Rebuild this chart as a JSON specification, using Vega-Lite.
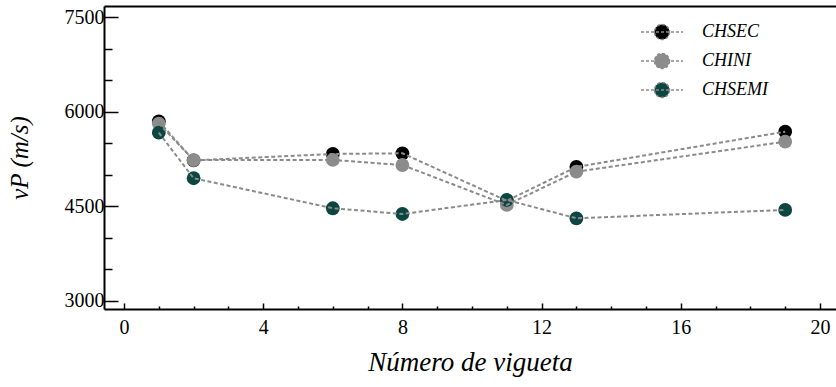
{
  "$schema": "https://vega.github.io/schema/vega-lite/v6.json",
  "width": 732,
  "height": 303,
  "autosize": "none",
  "padding": {"left": 104, "top": 6, "right": 0, "bottom": 78},
  "background": "white",
  "config": {"view": {"stroke": null}, "font": "Liberation Serif"},
  "data": {
    "values": [
      {"n": 1, "vp": 5850, "serie": "CHSEC"},
      {"n": 2, "vp": 5230, "serie": "CHSEC"},
      {"n": 6, "vp": 5332, "serie": "CHSEC"},
      {"n": 8, "vp": 5343, "serie": "CHSEC"},
      {"n": 11, "vp": 4590, "serie": "CHSEC"},
      {"n": 13, "vp": 5126, "serie": "CHSEC"},
      {"n": 19, "vp": 5686, "serie": "CHSEC"},
      {"n": 1, "vp": 5815, "serie": "CHINI"},
      {"n": 2, "vp": 5235, "serie": "CHINI"},
      {"n": 6, "vp": 5237, "serie": "CHINI"},
      {"n": 8, "vp": 5157, "serie": "CHINI"},
      {"n": 11, "vp": 4523, "serie": "CHINI"},
      {"n": 13, "vp": 5051, "serie": "CHINI"},
      {"n": 19, "vp": 5527, "serie": "CHINI"},
      {"n": 1, "vp": 5670, "serie": "CHSEMI"},
      {"n": 2, "vp": 4947, "serie": "CHSEMI"},
      {"n": 6, "vp": 4471, "serie": "CHSEMI"},
      {"n": 8, "vp": 4380, "serie": "CHSEMI"},
      {"n": 11, "vp": 4602, "serie": "CHSEMI"},
      {"n": 13, "vp": 4312, "serie": "CHSEMI"},
      {"n": 19, "vp": 4444, "serie": "CHSEMI"}
    ]
  },
  "encoding": {
    "y": {
      "field": "vp",
      "type": "quantitative",
      "scale": {"domain": [2873, 7679], "nice": false, "zero": false},
      "axis": {
        "title": "vP (m/s)",
        "titleFont": "Liberation Serif",
        "titleFontStyle": "italic",
        "titleFontWeight": "normal",
        "titleFontSize": 25,
        "titleColor": "black",
        "titlePadding": 32,
        "values": [3000, 3500, 4000, 4500, 5000, 5500, 6000, 6500, 7000, 7500],
        "format": "d",
        "labelExpr": "datum.value % 1500 === 0 ? datum.label : ''",
        "labelFont": "Liberation Serif",
        "labelFontSize": 20,
        "labelColor": "black",
        "labelPadding": 14,
        "tickSize": {"condition": {"test": "datum.value % 1500 === 0", "value": -14}, "value": -8},
        "tickColor": "black",
        "tickWidth": 1.5,
        "domainColor": "black",
        "domainWidth": 2,
        "grid": false
      }
    }
  },
  "layer": [
    {
      "mark": {"type": "point", "filled": true, "size": 190, "opacity": 1},
      "encoding": {
        "x": {
          "field": "n",
          "type": "quantitative",
          "scale": {"domain": [-0.575, 20.46], "nice": false, "zero": false},
          "axis": {"orient": "top", "labels": false, "ticks": false, "title": null, "domainColor": "black", "domainWidth": 2, "grid": false}
        },
        "color": {
          "field": "serie",
          "type": "nominal",
          "scale": {"domain": ["CHSEC", "CHINI", "CHSEMI"], "range": ["#000000", "#8c8c8c", "#0c4640"]},
          "legend": {
            "title": null,
            "orient": "none",
            "legendX": 547,
            "legendY": 15,
            "symbolType": "M -2.1 0 L 2.1 0 M 0.75 0 A 0.75 0.75 0 1 1 -0.75 0 A 0.75 0.75 0 1 1 0.75 0 Z",
            "symbolSize": 400,
            "symbolStrokeColor": "#8a8a8a",
            "symbolStrokeWidth": 1.5,
            "symbolDash": [3, 2],
            "symbolOpacity": 1,
            "labelFont": "Liberation Serif",
            "labelFontStyle": "italic",
            "labelFontSize": 18,
            "labelColor": "black",
            "labelOffset": 29,
            "rowPadding": 7,
            "encode": {
              "symbols": {"update": {"stroke": {"value": "#8a8a8a"}, "strokeDash": {"value": [3, 2]}, "strokeWidth": {"value": 1.5}}}
            }
          }
        }
      }
    },
    {
      "mark": {"type": "line", "stroke": "#8a8a8a", "strokeWidth": 2, "strokeDash": [4, 2.5]},
      "encoding": {
        "x": {
          "field": "n",
          "type": "quantitative",
          "scale": {"domain": [-0.575, 20.46], "nice": false, "zero": false},
          "axis": {
            "orient": "bottom",
            "title": "Número de vigueta",
            "titleFont": "Liberation Serif",
            "titleFontStyle": "italic",
            "titleFontWeight": "normal",
            "titleFontSize": 27,
            "titleColor": "black",
            "titlePadding": 12,
            "values": [0, 1, 2, 3, 4, 5, 6, 7, 8, 9, 10, 11, 12, 13, 14, 15, 16, 17, 18, 19, 20],
            "format": "d",
            "labelExpr": "datum.value % 4 === 0 ? datum.label : ''",
            "labelFont": "Liberation Serif",
            "labelFontSize": 20,
            "labelColor": "black",
            "labelPadding": 14,
            "tickSize": {"condition": {"test": "datum.value % 4 === 0", "value": -6}, "value": -3},
            "tickColor": "black",
            "tickWidth": 1.5,
            "domainColor": "black",
            "domainWidth": 2,
            "grid": false
          }
        },
        "detail": {"field": "serie", "type": "nominal"}
      }
    }
  ],
  "resolve": {"axis": {"x": "independent"}}
}
